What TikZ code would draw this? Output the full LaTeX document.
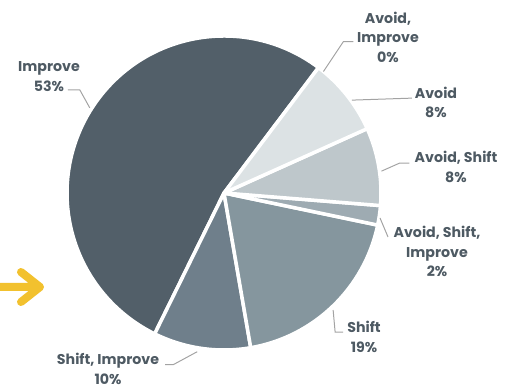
\documentclass[tikz,border=0pt]{standalone}
\usepackage{fontspec}
\setmainfont{Poppins}
\usepackage{xcolor}
\definecolor{slImprove}{HTML}{525F69}
\definecolor{slShiftImprove}{HTML}{6F7F8B}
\definecolor{slShift}{HTML}{85969E}
\definecolor{slAvoidShiftImprove}{HTML}{9EABB2}
\definecolor{slAvoidShift}{HTML}{BEC7CB}
\definecolor{slAvoid}{HTML}{DCE2E4}
\definecolor{labeltext}{HTML}{4E5A63}
\definecolor{leadergray}{HTML}{A3A3A3}
\definecolor{arrowyellow}{HTML}{F2C12E}

\begin{document}
\begin{tikzpicture}[x=1pt, y=1pt,
    slice/.style={draw=white, line width=3.5pt, line join=round},
    leader/.style={draw=leadergray, line width=1pt},
    lbl/.style={text=labeltext, font=\bfseries\fontsize{14.2}{19.5}\selectfont, align=center, inner sep=0pt}]
        \useasboundingbox (0,0) rectangle (516,388);
        \coordinate (c) at (224,195);

        % Tortenstuecke
        \filldraw[slice, fill=slImprove] (c) -- ++(53:157) arc (53:243.8:157) -- cycle;
        \filldraw[slice, fill=slShiftImprove] (c) -- ++(243.8:157) arc (243.8:279.8:157) -- cycle;
        \filldraw[slice, fill=slShift] (c) -- ++(279.8:157) arc (279.8:348.2:157) -- cycle;
        \filldraw[slice, fill=slAvoidShiftImprove] (c) -- ++(348.2:157) arc (348.2:355.4:157) -- cycle;
        \filldraw[slice, fill=slAvoidShift] (c) -- ++(355.4:157) arc (355.4:384.2:157) -- cycle;
        \filldraw[slice, fill=slAvoid] (c) -- ++(24.2:157) arc (24.2:53:157) -- cycle;

        % Beschriftungen
        \node[lbl] (lImprove) at (49,311.5) {Improve\\53\%};
        \node[lbl] (lAvoidImprove) at (388,351) {Avoid,\\Improve\\0\%};
        \node[lbl] (lAvoid) at (436,285.5) {Avoid\\8\%};
        \node[lbl] (lAvoidShift) at (456,221) {Avoid, Shift\\8\%};
        \node[lbl] (lAvoidShiftImprove) at (437,136.5) {Avoid, Shift,\\Improve\\2\%};
        \node[lbl] (lShift) at (364,51) {Shift\\19\%};
        \node[lbl] (lShiftImprove) at (108,19) {Shift, Improve\\10\%};

        % Punkte am Rand
        \path (c) ++(147.6:159) coordinate (pImprove);
        \path (c) ++(50.7:157) coordinate (pAvoidImprove);
        \path (c) ++(36:158) coordinate (pAvoid);
        \path (c) ++(7.9:159) coordinate (pAvoidShift);
        \path (c) ++(-9.1:158) coordinate (pAvoidShiftImprove);
        \path (c) ++(-47:160) coordinate (pShift);
        \path (c) ++(-99.6:161) coordinate (pShiftImprove);

        % Hinweislinien
        \draw[leader] (pImprove) -- ++(-10,18) -- ++(-12,0);
        \draw[leader] (pAvoidImprove) -- ++(20,30) -- ++(10,0);
        \draw[leader] (pAvoid) -- ++(60,2);
        \draw[leader] (pAvoidShift) -- ++(18,8) -- ++(10,0);
        \draw[leader] (pAvoidShiftImprove) -- ++(8,-19);
        \draw[leader] (pShift) -- ++(2,-22) -- ++(8,0);
        \draw[leader] (pShiftImprove) -- ++(-24,-13) -- ++(-8,0);

        % Pfeil
        \draw[arrowyellow, line width=8pt, line cap=round, line join=round]
            (-5,101) -- (40,101) (21,116) -- (40,101) -- (21,86);
    \end{tikzpicture}
\end{document}
